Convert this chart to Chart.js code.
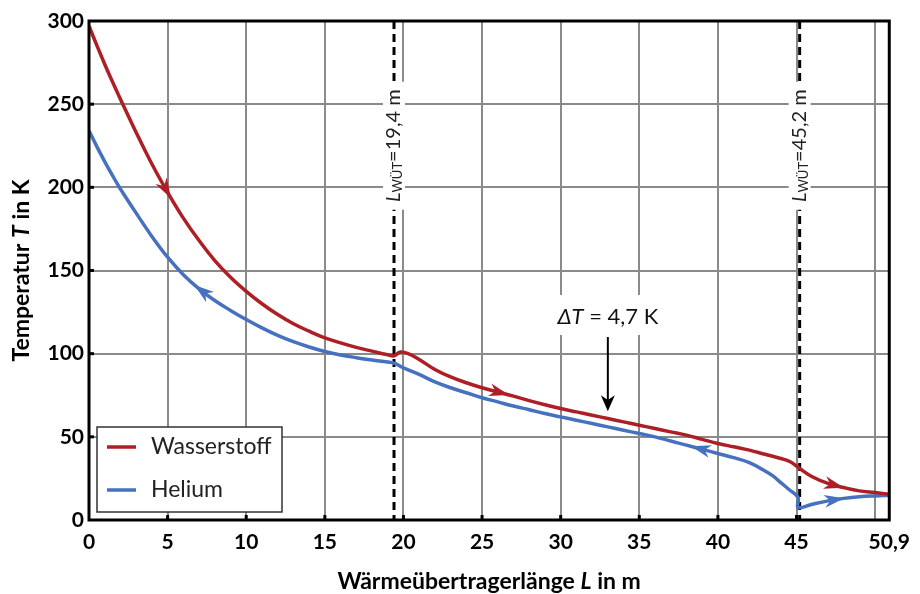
<!DOCTYPE html>
<html>
<head>
<meta charset="utf-8">
<script src="https://cdn.jsdelivr.net/npm/chart.js@4.4.1/dist/chart.umd.min.js"></script>
<style>
  html, body { margin: 0; padding: 0; background: #fff; }
  #chart { display: block; }
</style>
</head>
<body>
<canvas id="chart" width="920" height="594"></canvas>
<script>
// Wasserstoff (Länge in m, Temperatur in K)
const lengthH2 = [0, 0.5, 1, 1.5, 2, 3, 4, 5, 6, 7, 8, 9, 10, 11, 12, 13, 14, 15, 16, 17, 18, 19, 19.4, 19.8, 20.3, 21, 22, 23, 24, 25,
  26, 27, 28, 29, 30, 31, 32, 33, 34, 35, 36, 37, 38, 39, 40, 41, 42, 43, 44, 44.6, 45.2, 46, 47, 48, 49, 50, 50.9];
const tempH2 = [297, 285.3, 274, 263.3, 253, 233, 214, 197, 181.5, 168, 156, 146, 137.5, 130, 123.5, 118, 113.5, 109.5, 106.5, 103.8, 101.5, 99.3, 98.7, 101, 100, 96.5, 90.5, 86, 82.5, 79.5,
  77, 74.5, 71.8, 69.3, 67, 65, 63, 61, 59, 57, 55, 53, 51, 48.5, 46, 44, 42, 39.5, 37, 35, 31, 26, 22, 19.5, 17.5, 16.5, 15.5];

// Helium
const lengthHe = [0, 0.5, 1, 1.5, 2, 3, 4, 5, 6, 7, 8, 9, 10, 11, 12, 13, 14, 15, 16, 17, 18, 19, 19.4, 20, 21, 22, 23, 24, 25,
  26, 27, 28, 29, 30, 31, 32, 33, 34, 35, 36, 37, 38, 39, 40, 41, 42, 43, 43.5, 44, 44.5, 45.1, 45.1, 46, 47, 48, 49, 50, 50.9];
const tempHe = [234, 224.5, 215.5, 207, 199, 184.5, 170.5, 158, 147.5, 139, 132, 126, 120.5, 115.5, 111, 107.2, 104, 101.3, 99.2, 97.6, 96.2, 95, 94.3, 91.5, 87.5, 83, 79.5, 76.5, 73.5,
  71, 68.5, 66.3, 64, 62, 60, 58, 56, 54, 52, 50, 47.5, 45, 42.5, 40, 37.5, 34.5, 29.5, 26.5, 22.5, 18.5, 13.5, 7.5, 9.5, 11.5, 13, 14, 14.5, 14.8];

// Flow direction arrows on the curves (x position, direction)
const arrowsH2 = [4.9, 26.1, 47.4];
const arrowsH2Dir = [1, 1, 1];
const arrowsHe = [7.2, 38.9, 47.4];
const arrowsHeDir = [-1, -1, 1];

// Axis ticks
const xTicks = [0, 5, 10, 15, 20, 25, 30, 35, 40, 45, 50, 50.9];
const yTicks = [0, 50, 100, 150, 200, 250, 300];

// Marked lengths and the delta T note
const markLengths = [19.4, 45.2];
const markLabels = ["=19,4 m", "=45,2 m"];
const deltaNote = { x: 33, yFrom: 110, yTo: 66, text: " = 4,7 K" };

const RED = "#AD1F25";
const BLUE = "#4670C0";
const FONT = "Lato, 'Open Sans', sans-serif";

function interp(xs, ys, x) {
  for (let i = 1; i < xs.length; i++) {
    if (x <= xs[i]) {
      const t = (x - xs[i - 1]) / ((xs[i] - xs[i - 1]) || 1);
      return ys[i - 1] + t * (ys[i] - ys[i - 1]);
    }
  }
  return ys[ys.length - 1];
}

// draws a list of text runs in a row, centered on x
function drawRuns(ctx, runs, x, y) {
  let total = 0;
  runs.forEach(r => { ctx.font = r.font; r.w = ctx.measureText(r.text).width; total += r.w; });
  let cx = x - total / 2;
  runs.forEach(r => {
    ctx.font = r.font;
    ctx.fillText(r.text, cx, y + (r.dy || 0));
    cx += r.w;
  });
  return total;
}

function drawHead(ctx, x, y, ux, uy, len, wid, color) {
  const nx = -uy, ny = ux;
  ctx.save();
  ctx.fillStyle = color;
  ctx.beginPath();
  ctx.moveTo(x + ux * len / 2, y + uy * len / 2);
  ctx.lineTo(x - ux * len / 2 + nx * wid / 2, y - uy * len / 2 + ny * wid / 2);
  ctx.lineTo(x - ux * len / 5, y - uy * len / 5);
  ctx.lineTo(x - ux * len / 2 - nx * wid / 2, y - uy * len / 2 - ny * wid / 2);
  ctx.closePath();
  ctx.fill();
  ctx.restore();
}

const decorations = {
  id: "decorations",
  beforeDatasetsDraw(chart) {
    const { ctx, chartArea: a, scales: { x, y } } = chart;
    ctx.save();
    // dashed marks with rotated labels
    markLengths.forEach((m, i) => {
      const px = x.getPixelForValue(m);
      ctx.strokeStyle = "#000";
      ctx.lineWidth = 3;
      ctx.setLineDash([8, 5]);
      ctx.beginPath();
      ctx.moveTo(px, a.top);
      ctx.lineTo(px, a.bottom);
      ctx.stroke();
      ctx.setLineDash([]);

      const py = y.getPixelForValue(225);
      ctx.save();
      ctx.translate(px, py);
      ctx.rotate(-Math.PI / 2);
      ctx.fillStyle = "#fff";
      ctx.fillRect(-64, -11, 128, 22);
      ctx.fillStyle = "#222";
      ctx.textBaseline = "middle";
      drawRuns(ctx, [
        { text: "L", font: "italic 20px " + FONT },
        { text: "WÜT", font: "13px " + FONT, dy: 4 },
        { text: markLabels[i], font: "20px " + FONT }
      ], 0, 0);
      ctx.restore();
    });

    // delta T note with arrow
    const ax = x.getPixelForValue(deltaNote.x);
    const ay0 = y.getPixelForValue(deltaNote.yFrom);
    const ay1 = y.getPixelForValue(deltaNote.yTo);
    ctx.fillStyle = "#fff";
    ctx.fillRect(ax - 62, ay0 - 42, 124, 40);
    ctx.fillStyle = "#111";
    ctx.textBaseline = "middle";
    drawRuns(ctx, [
      { text: "ΔT", font: "italic 22px " + FONT },
      { text: deltaNote.text, font: "22px " + FONT }
    ], ax, ay0 - 20);
    ctx.strokeStyle = "#000";
    ctx.lineWidth = 2;
    ctx.beginPath();
    ctx.moveTo(ax, ay0);
    ctx.lineTo(ax, ay1 - 8);
    ctx.stroke();
    drawHead(ctx, ax, ay1 - 7, 0, 1, 16, 14, "#000");
    ctx.restore();
  },
  afterDatasetsDraw(chart) {
    const { ctx, chartArea: a, scales: { x, y } } = chart;
    const heads = (xs, ys, at, dir, color) => {
      at.forEach((v, i) => {
        const p0x = x.getPixelForValue(v - 0.3), p0y = y.getPixelForValue(interp(xs, ys, v - 0.3));
        const p1x = x.getPixelForValue(v + 0.3), p1y = y.getPixelForValue(interp(xs, ys, v + 0.3));
        let ux = p1x - p0x, uy = p1y - p0y;
        const l = Math.hypot(ux, uy);
        ux = ux / l * dir[i]; uy = uy / l * dir[i];
        drawHead(ctx, x.getPixelForValue(v), y.getPixelForValue(interp(xs, ys, v)), ux, uy, 20, 13, color);
      });
    };
    heads(lengthH2, tempH2, arrowsH2, arrowsH2Dir, RED);
    heads(lengthHe, tempHe, arrowsHe, arrowsHeDir, BLUE);

    ctx.save();
    // inward tick marks
    ctx.strokeStyle = "#000";
    ctx.lineWidth = 3;
    xTicks.slice(1, -2).forEach(v => {
      const px = x.getPixelForValue(v);
      ctx.beginPath(); ctx.moveTo(px, a.bottom); ctx.lineTo(px, a.bottom - 5); ctx.stroke();
    });
    yTicks.slice(1, -1).forEach(v => {
      const py = y.getPixelForValue(v);
      ctx.beginPath(); ctx.moveTo(a.left, py); ctx.lineTo(a.left + 5, py); ctx.stroke();
    });
    // frame
    ctx.lineWidth = 3;
    ctx.strokeRect(a.left, a.top, a.right - a.left, a.bottom - a.top);

    // legend
    const lx = a.left + 8, ly = a.bottom - 93, lw = 185, lh = 85;
    ctx.fillStyle = "#fff";
    ctx.fillRect(lx, ly, lw, lh);
    ctx.strokeStyle = "#333";
    ctx.lineWidth = 1.5;
    ctx.strokeRect(lx, ly, lw, lh);
    chart.data.datasets.forEach((ds, i) => {
      const ry = ly + 20 + i * 43;
      ctx.strokeStyle = ds.borderColor;
      ctx.lineWidth = 3.5;
      ctx.beginPath(); ctx.moveTo(lx + 10, ry); ctx.lineTo(lx + 39, ry); ctx.stroke();
      ctx.fillStyle = "#222";
      ctx.font = "23px " + FONT;
      ctx.textBaseline = "middle";
      ctx.textAlign = "left";
      ctx.fillText(ds.label, lx + 54, ry);
    });
    ctx.restore();
  },
  afterDraw(chart) {
    const { ctx, chartArea: a } = chart;
    ctx.save();
    ctx.fillStyle = "#000";
    ctx.textBaseline = "middle";
    drawRuns(ctx, [
      { text: "Wärmeübertragerlänge ", font: "bold 23px " + FONT },
      { text: "L", font: "italic bold 23px " + FONT },
      { text: " in m", font: "bold 23px " + FONT }
    ], (a.left + a.right) / 2, 582);
    ctx.translate(22, (a.top + a.bottom) / 2);
    ctx.rotate(-Math.PI / 2);
    drawRuns(ctx, [
      { text: "Temperatur ", font: "bold 23px " + FONT },
      { text: "T", font: "italic bold 23px " + FONT },
      { text: " in K", font: "bold 23px " + FONT }
    ], 0, 0);
    ctx.restore();
  }
};

const gridColor = (ctx, last) => {
  const v = ctx.tick ? ctx.tick.value : null;
  return (v === 0 || v === last) ? "rgba(0,0,0,0)" : "#8a8a8a";
};

new Chart(document.getElementById("chart"), {
  type: "line",
  data: {
    datasets: [{
      label: "Wasserstoff",
      data: lengthH2.map((v, i) => ({ x: v, y: tempH2[i] })),
      borderColor: RED,
      borderWidth: 3.5,
      pointRadius: 0,
      tension: 0.4
    }, {
      label: "Helium",
      data: lengthHe.map((v, i) => ({ x: v, y: tempHe[i] })),
      borderColor: BLUE,
      borderWidth: 3.5,
      pointRadius: 0,
      tension: 0.4
    }]
  },
  options: {
    responsive: false,
    animation: false,
    devicePixelRatio: 1,
    layout: { padding: { top: 21, right: 25, left: 0, bottom: 0 } },
    plugins: {
      legend: { display: false },
      tooltip: { enabled: false }
    },
    scales: {
      x: {
        type: "linear",
        min: 0,
        max: 50.9,
        afterBuildTicks: axis => { axis.ticks = xTicks.map(v => ({ value: v })); },
        afterFit: scale => { scale.height = 74; },
        grid: { color: ctx => gridColor(ctx, 50.9), lineWidth: 2, drawTicks: false },
        border: { display: false },
        ticks: {
          autoSkip: false,
          maxRotation: 0,
          padding: 10,
          color: "#000",
          font: { family: FONT, size: 21, weight: "bold" },
          callback: v => v === 50 ? "" : String(v).replace(".", ",")
        }
      },
      y: {
        min: 0,
        max: 300,
        afterBuildTicks: axis => { axis.ticks = yTicks.map(v => ({ value: v })); },
        afterFit: scale => { scale.width = 89; },
        grid: { color: ctx => gridColor(ctx, 300), lineWidth: 2, drawTicks: false },
        border: { display: false },
        ticks: {
          padding: 5,
          color: "#000",
          font: { family: FONT, size: 21, weight: "bold" }
        }
      }
    }
  },
  plugins: [decorations]
});
</script>
</body>
</html>
